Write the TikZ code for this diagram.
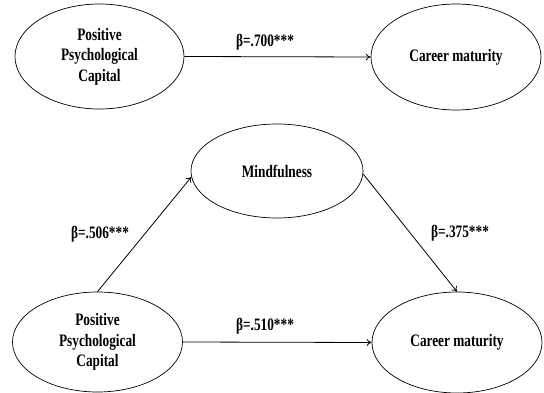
\documentclass[tikz,border=0pt]{standalone}
\usepackage{fontspec}
\setmainfont{Liberation Serif}[FakeStretch=0.76]
\usetikzlibrary{shapes.geometric,arrows.meta}
\begin{document}
\begin{tikzpicture}[x=1pt,y=-1pt,
  var/.style={draw, ellipse, line width=0.7pt, inner sep=0pt, align=center,
    font=\bfseries\fontsize{17.5}{20.5}\selectfont},
  conn/.style={-{To[length=5pt,width=7pt]}, line width=0.8pt},
  coef/.style={inner sep=0pt, font=\bfseries\fontsize{17.5}{20.5}\selectfont}]
\useasboundingbox (0,0) rectangle (544,393);
% top model
\node[var, minimum width=169pt, minimum height=105pt] (ppc1) at (99.5,56.5) {Positive\\Psychological\\Capital};
\node[var, minimum width=170pt, minimum height=106pt] (cm1) at (456,57) {Career maturity};
\draw[conn] (ppc1.east) -- (cm1.west);
\node[coef] (b1) at (265,42) {β=.700***};
% bottom model
\node[var, minimum width=172pt, minimum height=94pt] (mf) at (277,171) {Mindfulness};
\node[var, minimum width=170pt, minimum height=100pt] (ppc2) at (97.5,342) {Positive\\Psychological\\Capital};
\node[var, minimum width=170pt, minimum height=101pt] (cm2) at (457,342.5) {Career maturity};
\draw[conn] (ppc2.north) -- (mf.184);
\draw[conn] (mf.-2) -- (cm2.north);
\draw[conn] (ppc2.east) -- (cm2.west);
\node[coef] (b2) at (100,234) {β=.506***};
\node[coef] (b3) at (460,233) {β=.375***};
\node[coef] (b4) at (265,326) {β=.510***};
\end{tikzpicture}
\end{document}
